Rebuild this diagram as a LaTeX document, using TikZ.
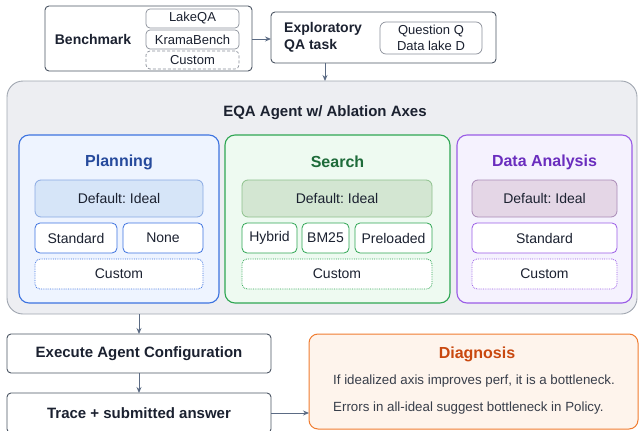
\documentclass[tikz,border=0pt]{standalone}
\usepackage{fontspec}
\setmainfont{Liberation Sans}
\usetikzlibrary{arrows.meta}
\frenchspacing
\definecolor{txt}{HTML}{1B2130}
\definecolor{bodytxt}{HTML}{383E4A}
\definecolor{topdraw}{HTML}{4B5563}
\definecolor{arr}{HTML}{5B6B84}
\definecolor{optgray}{HTML}{8A8F99}
\definecolor{agentfill}{HTML}{EDEEF2}
\definecolor{agentdraw}{HTML}{A0A6B0}
\definecolor{bdraw}{HTML}{3D73E0}
\definecolor{bfill}{HTML}{EEF4FF}
\definecolor{btitle}{HTML}{264A9C}
\definecolor{bdef}{HTML}{D6E5F8}
\definecolor{bdefd}{HTML}{89A9E3}
\definecolor{gdraw}{HTML}{2FA653}
\definecolor{gfill}{HTML}{EEFAF1}
\definecolor{gtitle}{HTML}{1E6B3A}
\definecolor{gdef}{HTML}{D3E6D2}
\definecolor{gdefd}{HTML}{8DC18C}
\definecolor{pdraw}{HTML}{9A5CE6}
\definecolor{pfill}{HTML}{F5F2FE}
\definecolor{ptitle}{HTML}{6A2DBE}
\definecolor{pdef}{HTML}{E4D6E6}
\definecolor{pdefd}{HTML}{A98AB6}
\definecolor{odraw}{HTML}{F07C30}
\definecolor{ofill}{HTML}{FEF4EC}
\definecolor{otitle}{HTML}{C9480F}
\tikzset{
  bx/.style={draw, rectangle, inner sep=0pt, outer sep=0pt},
  topbox/.style={bx, draw=topdraw, fill=white, line width=0.9pt, rounded corners=4pt},
  optbox/.style={bx, draw=optgray, fill=white, line width=0.7pt, rounded corners=4pt, text=txt, font=\fontsize{13}{15}\selectfont},
  lbl/.style={inner sep=0pt, text=txt},
  boldlbl/.style={lbl, font=\fontsize{14}{17}\selectfont\bfseries},
  paneltitle/.style={inner sep=0pt, font=\fontsize{16}{19}\selectfont\bfseries},
  panel/.style={bx, line width=1.1pt, rounded corners=10pt, minimum height=168pt},
  defbox/.style={bx, line width=0.8pt, rounded corners=6pt, minimum height=37pt, text=txt, font=\fontsize{14}{16}\selectfont},
  opt/.style={bx, fill=white, line width=0.8pt, rounded corners=5pt, minimum height=30pt, text=txt, font=\fontsize{14}{16}\selectfont},
  cust/.style={opt, densely dotted},
  conn/.style={draw=arr, line width=0.9pt, -{Stealth[length=6pt,width=5pt]}},
}
\begin{document}
\begin{tikzpicture}[x=1pt,y=-1pt]
\useasboundingbox (0,0) rectangle (640,431);
% top row
\node[topbox, minimum width=207pt, minimum height=65pt] (bench) at (148.5,38.5) {};
\node[boldlbl] (benchlbl) at (93,39) {Benchmark};
\node[optbox, minimum width=93pt, minimum height=19pt] (lakeqa) at (192.5,18.5) {LakeQA};
\node[optbox, minimum width=93pt, minimum height=19pt] (krama) at (192.5,39.5) {KramaBench};
\node[optbox, densely dashed, minimum width=93pt, minimum height=18pt] (custb) at (192.5,60) {Custom};
\node[topbox, minimum width=225pt, minimum height=51pt] (explor) at (383.5,37.5) {};
\node[boldlbl, anchor=west, align=left] (explbl) at (284,37.5) {Exploratory\\QA task};
\node[optbox, minimum width=102pt, minimum height=32pt, rounded corners=6pt, align=center, font=\fontsize{13}{16}\selectfont] (qbox) at (431,38) {Question Q\\Data lake D};
% agent
\node[bx, draw=agentdraw, fill=agentfill, line width=0.9pt, rounded corners=16pt, minimum width=630pt, minimum height=233pt] (agent) at (322,197.5) {};
\node[lbl, font=\fontsize{15}{18}\selectfont\bfseries] (agtitle) at (325,113) {EQA Agent w/ Ablation Axes};
\coordinate (a1) at (325,63);
\draw[conn] (bench.east |- 0,39) -- (explor.west |- 0,39);
\draw[conn] (a1) -- (a1 |- agent.north);
% planning
\node[panel, draw=bdraw, fill=bfill, minimum width=200pt] (plan) at (119,219) {};
\node[paneltitle, text=btitle] (plant) at (119,162) {Planning};
\node[defbox, draw=bdefd, fill=bdef, minimum width=168pt] (pdefn) at (119,198.5) {Default: Ideal};
\node[opt, draw=bdraw, minimum width=82pt] (pstd) at (76,238) {Standard};
\node[opt, draw=bdraw, minimum width=80pt] (pnone) at (163,238) {None};
\node[cust, draw=bdraw, minimum width=168pt] (pcust) at (119,274) {Custom};
% search
\node[panel, draw=gdraw, fill=gfill, minimum width=225pt] (search) at (337.5,219) {};
\node[paneltitle, text=gtitle] (searcht) at (337.5,162) {Search};
\node[defbox, draw=gdefd, fill=gdef, minimum width=190pt] (sdefn) at (337,198.5) {Default: Ideal};
\node[opt, draw=gdraw, minimum width=55pt] (shyb) at (269.5,238) {Hybrid};
\node[opt, draw=gdraw, minimum width=47pt] (sbm) at (325.5,238) {BM25};
\node[opt, draw=gdraw, minimum width=77pt] (spre) at (393.5,238) {Preloaded};
\node[cust, draw=gdraw, minimum width=190pt] (scust) at (337,274) {Custom};
% data analysis
\node[panel, draw=pdraw, fill=pfill, minimum width=175pt] (da) at (544.5,219) {};
\node[paneltitle, text=ptitle] (dat) at (544.5,162) {Data Analysis};
\node[defbox, draw=pdefd, fill=pdef, minimum width=145pt] (ddefn) at (544.5,198.5) {Default: Ideal};
\node[opt, draw=pdraw, minimum width=145pt] (dstd) at (544.5,238) {Standard};
\node[cust, draw=pdraw, minimum width=145pt] (dcust) at (544.5,274) {Custom};
% bottom
\node[topbox, minimum width=264pt, minimum height=39pt, font=\fontsize{15}{18}\selectfont\bfseries, text=txt] (exec) at (139,353.5) {Execute Agent Configuration};
\node[topbox, minimum width=264pt, minimum height=40pt, font=\fontsize{15}{18}\selectfont\bfseries, text=txt] (trace) at (139,413) {Trace + submitted answer};
\draw[conn] (exec.north |- agent.south) -- (exec.north);
\draw[conn] (exec.south) -- (trace.north);
\node[bx, draw=odraw, fill=ofill, line width=1pt, rounded corners=9pt, minimum width=329pt, minimum height=95pt] (diag) at (473.5,381.5) {};
\draw[conn] (trace.east) -- (trace.east -| diag.west);
\node[paneltitle, text=otitle] (diagt) at (477,354) {Diagnosis};
\node[lbl, text=bodytxt, anchor=west, font=\fontsize{13.3}{16}\selectfont] (d1) at (333,381) {If idealized axis improves perf, it is a bottleneck.};
\node[lbl, text=bodytxt, anchor=west, font=\fontsize{13.3}{16}\selectfont] (d2) at (333,408) {Errors in all-ideal suggest bottleneck in Policy.};
\end{tikzpicture}
\end{document}
